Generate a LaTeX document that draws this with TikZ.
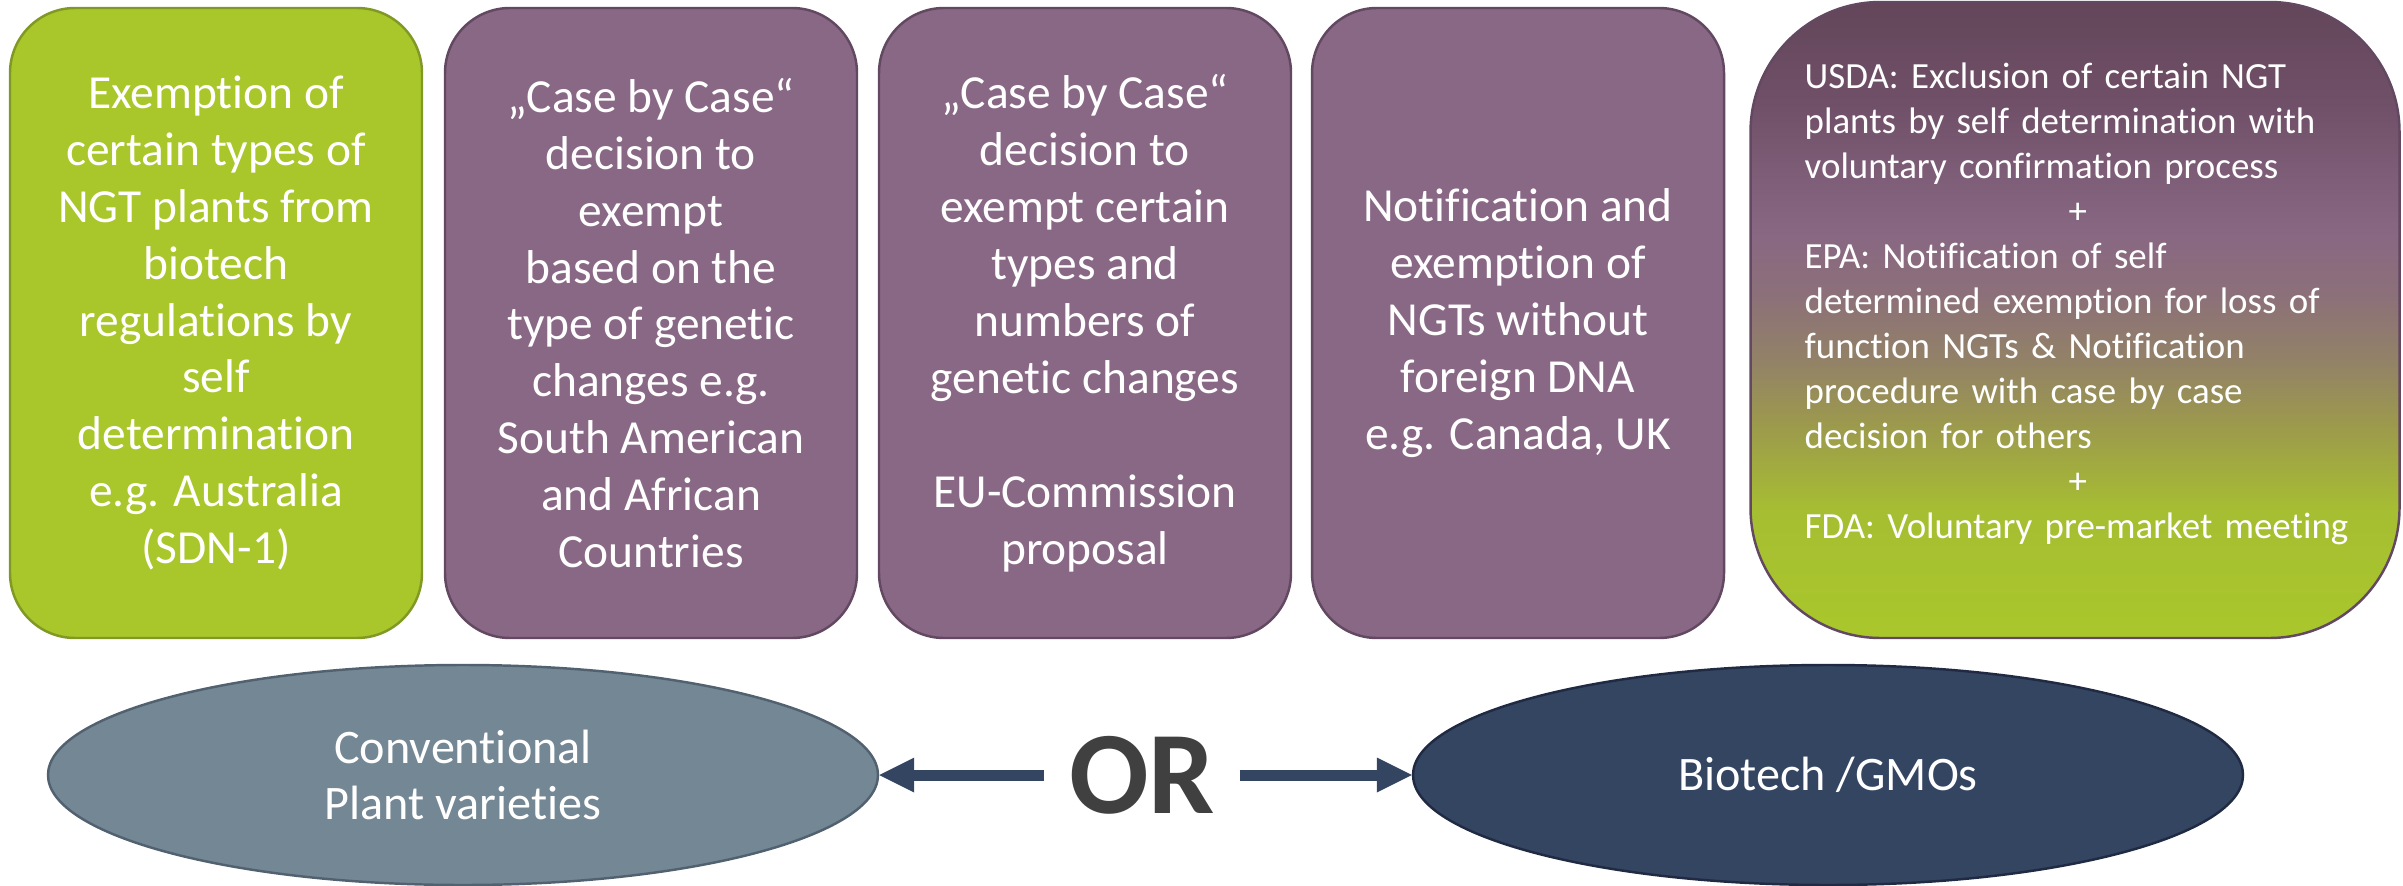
\documentclass[tikz,border=0pt]{standalone}
\usepackage{fontspec}
\setmainfont[Ligatures={TeX,NoCommon},RawFeature={-liga,-clig,-calt,-dlig}]{Carlito}
\usetikzlibrary{arrows.meta,shapes.geometric}
\definecolor{ngtgreen}{RGB}{169,198,43}
\definecolor{ngtgreenline}{RGB}{128,152,36}
\definecolor{ngtpurple}{RGB}{137,104,134}
\definecolor{ngtpurpleline}{RGB}{98,72,96}
\definecolor{convgray}{RGB}{116,135,149}
\definecolor{convline}{RGB}{82,97,112}
\definecolor{gmoblue}{RGB}{52,69,98}
\definecolor{gmoline}{RGB}{32,42,66}
\definecolor{ortext}{RGB}{64,64,64}
\definecolor{usaA}{RGB}{99,70,90}
\definecolor{usaB}{RGB}{112,80,104}
\definecolor{usaC}{RGB}{136,103,131}
\definecolor{usaD}{RGB}{140,112,121}
\definecolor{usaE}{RGB}{146,129,104}
\definecolor{usaF}{RGB}{156,152,78}
\definecolor{usaG}{RGB}{166,190,50}
\definecolor{usaH}{RGB}{169,199,43}
\pgfdeclareverticalshading{usashade}{100bp}{color(0bp)=(usaH); color(25bp)=(usaH); color(35bp)=(usaG); color(42bp)=(usaF); color(47bp)=(usaE); color(52bp)=(usaD); color(57bp)=(usaC); color(67bp)=(usaB); color(75bp)=(usaA); color(100bp)=(usaA)}
\begin{document}
\begin{tikzpicture}[x=0.1mm,y=-0.1mm,
  ngtbox/.style={draw=ngtpurpleline,fill=ngtpurple,line width=0.7pt,rounded corners=6.5mm,
    minimum width=41.2mm,minimum height=63mm,text=white,align=center,
    font=\fontsize{13.5}{16.2}\selectfont},
  greenbox/.style={ngtbox,draw=ngtgreenline,fill=ngtgreen},
  usabox/.style={draw=ngtpurpleline,line width=0.7pt,rounded corners=13mm,shading=usashade,
    minimum width=64.9mm,minimum height=63.6mm},
  usatext/.style={anchor=north west,text=white,text width=58mm,align=left,inner sep=0pt,
    font=\fontsize{10.5}{12.8}\selectfont},
  plantell/.style={ellipse,line width=0.7pt,minimum width=83mm,minimum height=22mm,
    text=white,align=center,font=\fontsize{13.7}{16}\selectfont},
  orarrow/.style={draw=gmoblue,line width=1.1mm,-{Triangle[length=3.5mm,width=3.5mm,line width=0pt]}}]
  \useasboundingbox (0,0) rectangle (2403,886);
  \node[greenbox] (exempt) at (216,323) {Exemption of\\certain types of\\NGT plants from\\biotech\\regulations by\\self\\determination\\e.g. Australia\\(SDN-1)};
  \node[ngtbox] (casetype) at (651,323) {„Case by Case“\\decision to\\exempt\\based on the\\type of genetic\\changes e.g.\\South American\\and African\\Countries};
  \node[ngtbox] (caseeu) at (1085,323) {„Case by Case“\\decision to\\exempt certain\\types and\\numbers of\\genetic changes\\[16.2pt]EU-Commission\\proposal};
  \node[ngtbox] (notify) at (1518,323) {Notification and\\exemption of\\NGTs without\\foreign DNA\\e.g. Canada, UK};
  \node[usabox] (usa) at (2075,320) {};
  \node[usatext] (usanote) at (1804,62) {USDA: Exclusion of certain NGT\\plants by self determination with\\voluntary confirmation process\\\hspace*{27.3mm}\makebox[0pt]{+}\\EPA: Notification of self\\determined exemption for loss of\\function NGTs \& Notification\\procedure with case by case\\decision for others\\\hspace*{27.3mm}\makebox[0pt]{+}\\FDA: Voluntary pre-market meeting};
  \node[plantell,draw=convline,fill=convgray] (conv) at (463,775) {Conventional\\Plant varieties};
  \node[plantell,draw=gmoline,fill=gmoblue] (gmo) at (1828,775) {Biotech /GMOs};
  \node[text=ortext,inner xsep=2.4mm,inner ysep=0pt,font=\fontsize{33.5}{40}\selectfont\bfseries] (or) at (1142,775) {OR};
  \draw[orarrow] (or.west) -- (conv.east);
  \draw[orarrow] (or.east) -- (gmo.west);
\end{tikzpicture}
\end{document}
